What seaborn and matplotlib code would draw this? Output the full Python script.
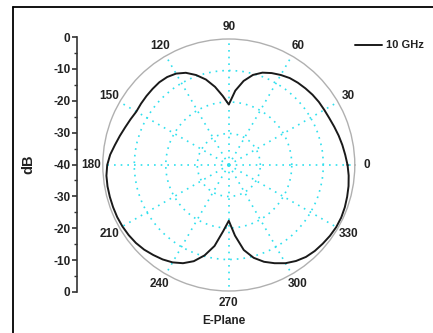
import numpy as np
import pandas as pd
import matplotlib
matplotlib.use("Agg")
import matplotlib.pyplot as plt
from matplotlib.lines import Line2D
import seaborn as sns

# ---- data ----
angles_deg = [0, 5, 10, 15, 20, 25, 30, 35, 40, 45, 50, 55, 60, 65, 70, 75, 80, 85, 90,
              95, 100, 105, 110, 115, 120, 125, 130, 135, 140, 145, 150, 155, 160, 165, 170, 175, 180,
              185, 190, 195, 200, 205, 210, 215, 220, 225, 230, 235, 240, 245, 250, 255, 260, 265, 270,
              275, 280, 285, 290, 295, 300, 305, 310, 315, 320, 325, 330, 335, 340, 345, 350, 355, 360]
gain_db = [-2.3, -2.9, -3.4, -3.9, -4.4, -4.8, -5.0, -5.1, -5.3, -5.6, -5.9, -6.3, -7.0, -7.8, -8.8, -10.4, -12.9, -16.3, -20.8,
           -18.0, -14.8, -11.9, -9.6, -7.7, -6.5, -5.9, -5.7, -5.8, -5.9, -6.0, -6.1, -5.6, -5.0, -4.2, -3.3, -2.2, -1.4,
           -1.0, -0.9, -0.9, -0.9, -0.9, -1.0, -1.2, -1.5, -2.0, -2.7, -3.4, -4.3, -5.6, -7.5, -10.3, -13.9, -18.8, -22.3,
           -17.5, -12.6, -9.5, -7.3, -5.6, -4.0, -2.8, -1.9, -1.4, -1.1, -0.8, -0.6, -0.6, -0.8, -1.1, -1.4, -1.8, -2.3]
series_label = "10 GHz"
theta_labels = ["0", "30", "60", "90", "120", "150", "180", "210", "240", "270", "300", "330"]
theta_ticks_deg = [0, 30, 60, 90, 120, 150, 180, 210, 240, 270, 300, 330]
r_grid = [-30, -20, -10]
left_ticks = [40, 30, 20, 10, 0, -10, -20, -30, -40]
left_labels = ["0", "-10", "-20", "-30", "-40", "-30", "-20", "-10", "0"]
x_title = "E-Plane"
y_title = "dB"

sns.set_style("white")
plt.rcParams["font.family"] = ["Liberation Sans", "DejaVu Sans"]
plt.rcParams["font.weight"] = "bold"

W, H = 433, 333
fig = plt.figure(figsize=(W / 100, H / 100), dpi=100)

# polar axes: centre (228.8, 165) px, radius 126 px
cx, cy, R = 228.8, 165.0, 126.0
ax = fig.add_axes([(cx - R) / W, (H - cy - R) / H, 2 * R / W, 2 * R / H], projection="polar")

df = pd.DataFrame({"theta": np.deg2rad(angles_deg), "db": gain_db})
sns.lineplot(data=df, x="theta", y="db", ax=ax, sort=False, color="#1a1a1a",
             linewidth=1.4, estimator=None, label=series_label, legend=False)

ax.set_rlim(-40, 0)
ax.set_rticks(r_grid)
ax.set_yticklabels([])
ax.set_thetagrids(theta_ticks_deg, labels=theta_labels)
ax.grid(True, color="#2fe0ee", linestyle=(0, (1, 3)), linewidth=1.2)
ax.spines["polar"].set_color("#b0b0b0")
ax.spines["polar"].set_linewidth(1.0)
ax.tick_params(axis="x", direction="in", length=3, width=0.8, color="#909090",
               pad=1.5, labelsize=8.5, labelcolor="#222222")
for t in ax.get_xticklabels():
    t.set_fontweight("bold")
ax.set_xlabel("")
ax.set_ylabel("")
ax.set_facecolor("none")

# left linear dB scale
ax2 = fig.add_axes([77.3 / W, (H - 292) / H, 0.001, (292 - 37) / H])
ax2.set_ylim(-40, 40)
ax2.set_xticks([])
ax2.set_yticks(left_ticks)
ax2.set_yticklabels(left_labels)
ax2.set_yticks(np.arange(-35, 40, 5), minor=True)
for s in ["top", "right", "bottom"]:
    ax2.spines[s].set_visible(False)
ax2.spines["left"].set_color("#333333")
ax2.spines["left"].set_linewidth(1.2)
ax2.tick_params(axis="y", which="major", direction="out", length=3.5, width=1.2,
                color="#333333", labelsize=8.5, labelcolor="#222222", pad=1.5, left=True)
ax2.tick_params(axis="y", which="minor", direction="out", length=2, width=1.0,
                color="#333333", left=True)
for t in ax2.get_yticklabels():
    t.set_fontweight("bold")
ax2.patch.set_visible(False)

fig.text(28 / W, 1 - 164 / H, y_title, rotation=90, ha="center", va="center",
         fontsize=10.5, fontweight="bold", color="#222222")
fig.text(224 / W, 1 - 321.5 / H, x_title, ha="center", va="center",
         fontsize=8.5, fontweight="bold", color="#222222")

# legend
fig.add_artist(Line2D([355 / W, 382 / W], [1 - 44.5 / H, 1 - 44.5 / H], color="#1a1a1a", linewidth=1.4))
fig.text(386 / W, 1 - 44.5 / H, series_label, ha="left", va="center",
         fontsize=8, fontweight="bold", color="#222222")

# page frame
fig.add_artist(Line2D([13 / W, 13 / W], [0, 1 - 7 / H], color="black", linewidth=1.3))
fig.add_artist(Line2D([13 / W, 1], [1 - 7 / H, 1 - 7 / H], color="black", linewidth=1.3))

fig.savefig("out.png", dpi=100)
